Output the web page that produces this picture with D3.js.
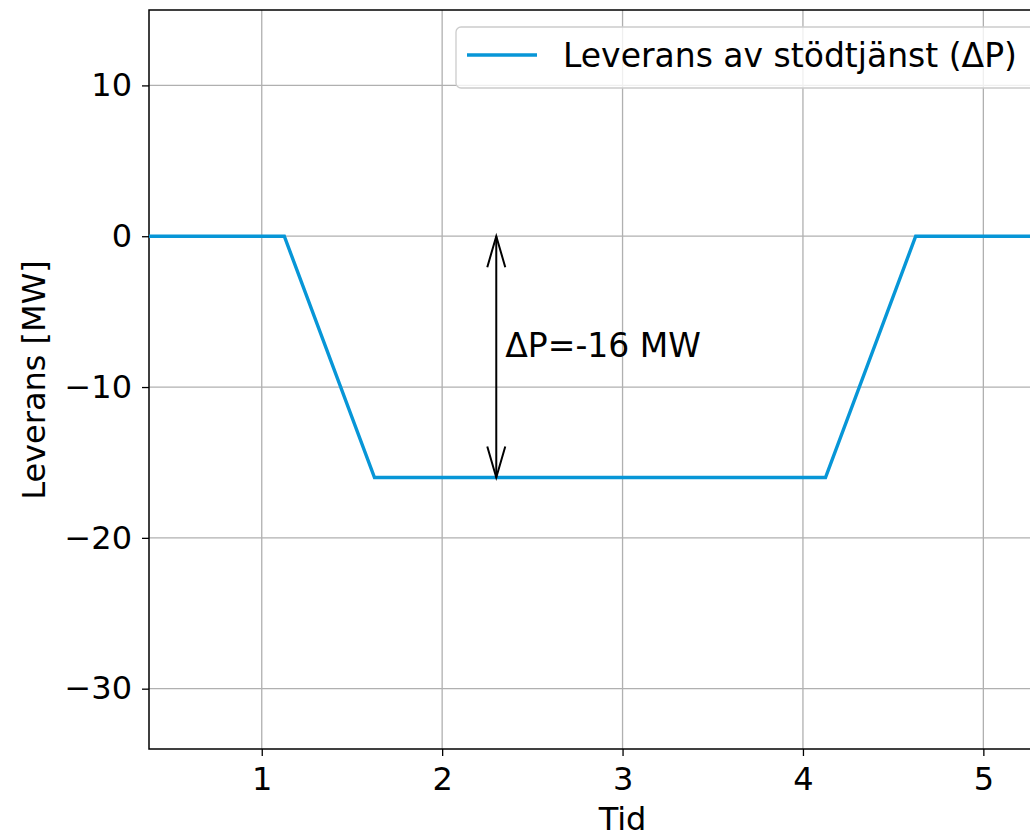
<!DOCTYPE html>
<html>
<head>
<meta charset="utf-8">
<script src="https://cdn.jsdelivr.net/npm/d3@7"></script>
<style>
  html, body { margin: 0; padding: 0; background: #fff; overflow: hidden; }
  text { font-family: "DejaVu Sans", sans-serif; fill: #000; }
</style>
</head>
<body>
<div id="chart"></div>
<script>
// Data
var tid = [0.375, 1.125, 1.625, 4.125, 4.625, 5.375]
var leverans = [0, 0, -16, -16, 0, 0]
var xTicks = [1, 2, 3, 4, 5]
var yTicks = [10, 0, -10, -20, -30]
var seriesName = "Leverans av stödtjänst (ΔP)"
var arrowX = 2.3, arrowFrom = 0, arrowTo = -16
var annotation = "ΔP=-16 MW"

var W = 1030, H = 838
var fs = 32
// plotytan går utanför bildens högra kant (beskuren figur)
var margin = { top: 10, left: 149, right: -21, bottom: 89 },
  width = W - margin.left - margin.right,
  height = H - margin.top - margin.bottom

var svg = d3.select("#chart")
  .append("svg")
  .attr("width", W)
  .attr("height", H)

var g = svg.append("g")
  .attr("transform", "translate(" + margin.left + "," + margin.top + ")")

// Escalas
var x = d3.scaleLinear().domain([0.375, 5.375]).range([0, width])
var y = d3.scaleLinear().domain([-34, 15]).range([height, 0])

// Grid
g.selectAll(".gx").data(xTicks).enter().append("line")
  .attr("x1", d => x(d)).attr("x2", d => x(d))
  .attr("y1", 0).attr("y2", height)
  .attr("stroke", "#b0b0b0").attr("stroke-width", 1.3)

g.selectAll(".gy").data(yTicks).enter().append("line")
  .attr("y1", d => y(d)).attr("y2", d => y(d))
  .attr("x1", 0).attr("x2", width)
  .attr("stroke", "#b0b0b0").attr("stroke-width", 1.3)

// Axes
var xAxis = g.append("g")
  .attr("transform", "translate(0," + height + ")")
  .call(d3.axisBottom(x).tickValues(xTicks).tickSize(7).tickPadding(11).tickFormat(d3.format("d")))
var yAxis = g.append("g")
  .call(d3.axisLeft(y).tickValues(yTicks).tickSize(7).tickPadding(10)
    .tickFormat(d => d < 0 ? "\u2212" + Math.abs(d) : d))

;[xAxis, yAxis].forEach(function(a) {
  a.select(".domain").remove()
  a.selectAll(".tick line").attr("stroke", "#000").attr("stroke-width", 1.3)
  a.selectAll(".tick text").attr("font-size", fs).attr("font-family", "DejaVu Sans")
})

// Spines
g.append("rect")
  .attr("width", width).attr("height", height)
  .attr("fill", "none").attr("stroke", "#000").attr("stroke-width", 1.5)

// Linje
var line = d3.line().x((d, i) => x(tid[i])).y(d => y(d))
g.append("path")
  .datum(leverans)
  .attr("d", line)
  .attr("fill", "none")
  .attr("stroke", "#0796d7")
  .attr("stroke-width", 3.4)
  .attr("stroke-linejoin", "miter")

// Pil (dubbelriktad, öppna pilhuvuden)
var ax = x(arrowX), ay1 = y(arrowFrom), ay2 = y(arrowTo)
g.append("line")
  .attr("x1", ax).attr("x2", ax).attr("y1", ay1).attr("y2", ay2)
  .attr("stroke", "#000").attr("stroke-width", 2)
function head(yTip, dir) {
  g.append("path")
    .attr("d", "M" + (ax - 9) + "," + (yTip + dir * 31) + "L" + ax + "," + yTip + "L" + (ax + 9) + "," + (yTip + dir * 31))
    .attr("fill", "none").attr("stroke", "#000").attr("stroke-width", 2)
}
head(ay1, 1)
head(ay2, -1)

g.append("text")
  .attr("x", x(arrowX + 0.05))
  .attr("y", y(-8))
  .attr("font-size", 33)
  .text(annotation)

// Legend
var lg = g.append("g").attr("transform", "translate(" + (456 - margin.left) + "," + (27 - margin.top) + ")")
lg.append("rect")
  .attr("width", 620).attr("height", 61)
  .attr("rx", 5)
  .attr("fill", "#fff").attr("fill-opacity", 0.8)
  .attr("stroke", "#cccccc").attr("stroke-width", 1.3)
lg.append("line")
  .attr("x1", 11).attr("x2", 81).attr("y1", 28).attr("y2", 28)
  .attr("stroke", "#0796d7").attr("stroke-width", 3.4)
lg.append("text")
  .attr("x", 107).attr("y", 40)
  .attr("font-size", 33)
  .text(seriesName)

// Axeltitlar
svg.append("text")
  .attr("x", margin.left + x(3)).attr("y", 830)
  .attr("text-anchor", "middle").attr("font-size", fs)
  .text("Tid")
svg.append("text")
  .attr("transform", "translate(45,380) rotate(-90)")
  .attr("text-anchor", "middle").attr("font-size", fs)
  .text("Leverans [MW]")
</script>
</body>
</html>
